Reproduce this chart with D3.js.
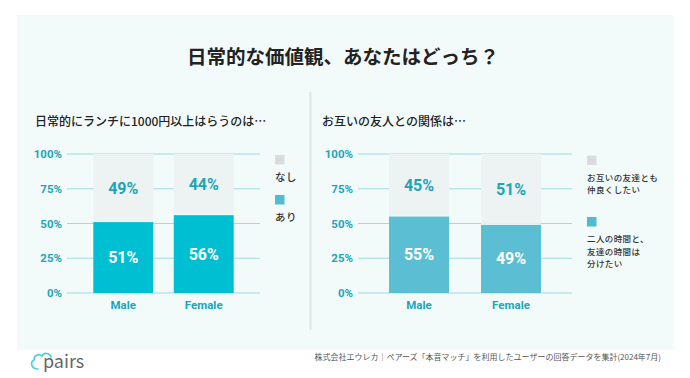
<!DOCTYPE html>
<html><head><meta charset="utf-8">
<script src="https://cdn.jsdelivr.net/npm/d3@7"></script>
<style>
html,body{margin:0;padding:0;background:#fff;}
svg{display:block;}
text{font-family:"Noto Sans CJK JP","Noto Sans",sans-serif;}
.num{font-family:Roboto,"Noto Sans",sans-serif;font-weight:700;}
</style></head>
<body>
<svg id="c" width="690" height="378"></svg>
<script>
const title = "日常的な価値観、あなたはどっち？";
const categories = ["Male", "Female"];
const ticks = [0, 25, 50, 75, 100];

const chart1Title = "日常的にランチに1000円以上はらうのは…";
const chart1Yes = [51, 56];   // あり
const chart1No = [49, 44];    // なし
const chart1Legend = [["なし"], ["あり"]];

const chart2Title = "お互いの友人との関係は…";
const chart2Separate = [55, 49]; // 二人の時間と、友達の時間は分けたい
const chart2Together = [45, 51]; // お互いの友達とも仲良くしたい
const chart2Legend = [["お互いの友達とも", "仲良くしたい"], ["二人の時間と、", "友達の時間は", "分けたい"]];

const footer = "株式会社エウレカ｜ペアーズ「本音マッチ」を利用したユーザーの回答データを集計(2024年7月)";

const svg = d3.select("#c");
const TEAL = "#1ba6b7";
const TOPC = "#edf2f2";

svg.append("rect").attr("x",17).attr("y",15).attr("width",657).attr("height",335).attr("fill","#f3fafa");
svg.append("rect").attr("x",309.5).attr("y",92).attr("width",2).attr("height",238).attr("fill","#dce4e4");

svg.append("text").attr("x",343).attr("y",64).attr("text-anchor","middle")
  .attr("font-size",19.5).attr("font-weight",700).attr("fill","#222").text(title);

function drawChart(opt){
  const g = svg.append("g");
  g.append("text").attr("x",opt.titleX).attr("y",126).attr("font-size",12).attr("font-weight",500)
   .attr("fill","#222").text(opt.title);
  const y = d3.scaleLinear().domain([0,100]).range([293,154]);
  const x = d3.scaleBand().domain(categories).range(opt.xRange)
     .paddingInner(opt.pi).paddingOuter(opt.po);
  g.selectAll(".grid").data(ticks).join("line")
   .attr("x1",opt.xRange[0]).attr("x2",opt.xRange[1])
   .attr("y1",d=>y(d)).attr("y2",d=>y(d))
   .attr("stroke","#9fdbe5").attr("stroke-width",1.2);
  g.selectAll(".yl").data(ticks).join("text").attr("class","num")
   .attr("x",opt.xRange[0]-5).attr("y",d=>y(d)+4).attr("text-anchor","end")
   .attr("font-size",11.5).attr("fill",TEAL).text(d=>d+"%");
  categories.forEach((c,i)=>{
    const b = opt.bottom[i], t = opt.top[i];
    g.append("rect").attr("x",x(c)).attr("width",x.bandwidth())
     .attr("y",y(100)).attr("height",y(b)-y(100)-1).attr("fill",TOPC);
    g.append("rect").attr("x",x(c)).attr("width",x.bandwidth())
     .attr("y",y(b)).attr("height",y(0)-y(b)).attr("fill",opt.color);
    g.append("text").attr("class","num").attr("x",x(c)+x.bandwidth()/2).attr("y",(y(100)+y(b))/2+5.5)
     .attr("text-anchor","middle").attr("font-size",16).attr("fill",TEAL).text(t+"%");
    g.append("text").attr("class","num").attr("x",x(c)+x.bandwidth()/2).attr("y",(y(b)+y(0))/2+5.5)
     .attr("text-anchor","middle").attr("font-size",16).attr("fill","#fff").text(b+"%");
    g.append("text").attr("class","num").attr("x",x(c)+x.bandwidth()/2).attr("y",309)
     .attr("text-anchor","middle").attr("font-size",11.5).attr("fill",TEAL).text(c);
  });
  const lc = ["#d9dcdc", opt.legendColor];
  opt.legend.forEach((lines,i)=>{
    const sy = opt.legendY[i];
    g.append("rect").attr("x",opt.legendX).attr("y",sy).attr("width",9.5).attr("height",9.5).attr("fill",lc[i]);
    lines.forEach((l,j)=>{
      g.append("text").attr("x",opt.legendX).attr("y",sy+opt.textOff+j*opt.lineH)
       .attr("font-size",opt.legendSize).attr("font-weight",500).attr("letter-spacing",opt.ls)
       .attr("fill","#333").text(l);
    });
  });
}

drawChart({title:chart1Title,titleX:35,xRange:[67,260],pi:0.255,po:0.327,
  bottom:chart1Yes,top:chart1No,color:"#00bfd2",legendColor:"#4fbdd0",
  legend:chart1Legend,legendX:275,legendY:[155,195],textOff:26,legendSize:10.5,lineH:11,ls:0.5});
drawChart({title:chart2Title,titleX:322,xRange:[358,572],pi:0.348,po:0.337,
  bottom:chart2Separate,top:chart2Together,color:"#5bbed3",legendColor:"#4fbdd0",
  legend:chart2Legend,legendX:587,legendY:[155.5,217],textOff:25,legendSize:8.5,lineH:12.6,ls:0.4});

// footer logo
const lg = svg.append("g").attr("transform","translate(29,352)");
lg.append("path")
  .attr("d","M9,17 C2,17 1,10 5,8 C5,3 10,1 13,4 C15,0 21,1 22,5")
  .attr("fill","none").attr("stroke","#4cd0dc").attr("stroke-width",1.7).attr("stroke-linecap","round");
lg.append("text").attr("x",14).attr("y",16).attr("font-family","Roboto,sans-serif")
  .attr("font-size",18).attr("fill","#666").text("pairs");
svg.append("text").attr("x",661).attr("y",360).attr("text-anchor","end")
  .attr("font-size",8).attr("fill","#555").text(footer);
</script>
</body></html>
